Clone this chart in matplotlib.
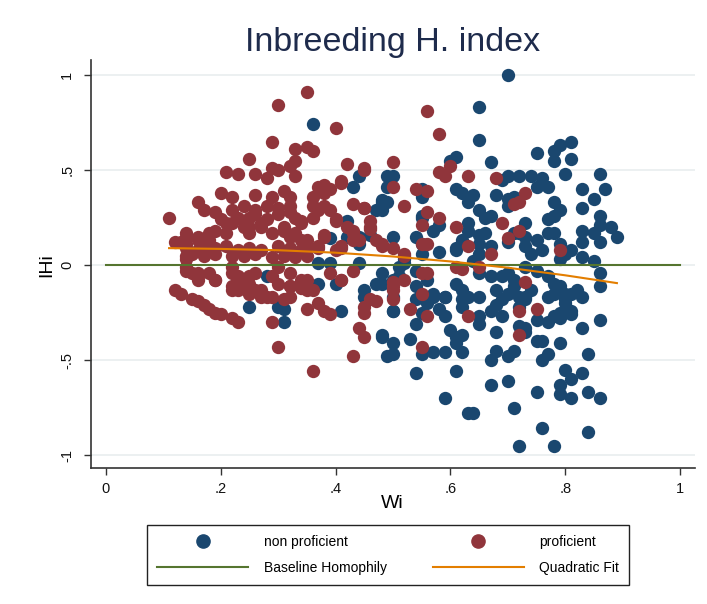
import matplotlib
matplotlib.use('Agg')
import matplotlib.pyplot as plt
from matplotlib.lines import Line2D
import numpy as np

plt.rcParams['font.family'] = ['Liberation Sans', 'DejaVu Sans']

# (Wi, IHi)
nonprof_pts = [
    (0.70,1.00),(0.65,0.83),(0.65,0.66),(0.67,0.54),(0.60,0.55),(0.61,0.57),(0.75,0.59),(0.78,0.60),(0.79,0.63),(0.78,0.55),
    (0.81,0.65),(0.81,0.56),(0.80,0.48),(0.86,0.48),(0.83,0.40),(0.85,0.35),(0.87,0.40),(0.83,0.30),(0.86,0.26),(0.88,0.20),
    (0.89,0.15),(0.86,0.21),(0.85,0.17),(0.86,0.12),(0.83,0.18),(0.83,0.12),(0.81,0.08),(0.83,0.04),(0.85,0.02),(0.86,-0.04),
    (0.86,-0.11),(0.70,0.47),(0.72,0.47),(0.69,0.45),(0.74,0.47),(0.76,0.46),(0.75,0.41),(0.77,0.41),(0.61,0.40),(0.62,0.38),
    (0.64,0.37),(0.63,0.33),(0.65,0.29),(0.67,0.26),(0.66,0.25),(0.68,0.37),(0.70,0.35),(0.71,0.36),(0.70,0.31),(0.78,0.33),
    (0.79,0.29),(0.78,0.26),(0.77,0.24),(0.73,0.22),(0.72,0.17),(0.55,0.40),(0.55,0.36),(0.50,0.47),(0.48,0.34),(0.55,0.26),
    (0.57,0.18),(0.58,0.21),(0.63,0.22),(0.63,0.18),(0.65,0.16),(0.66,0.17),(0.50,0.15),(0.54,0.15),(0.55,0.11),(0.55,0.06),
    (0.58,0.07),(0.61,0.08),(0.62,0.13),(0.65,0.11),(0.65,0.06),(0.67,0.10),(0.70,0.12),(0.71,0.17),(0.73,0.15),(0.73,0.10),
    (0.75,0.13),(0.76,0.08),(0.74,0.06),(0.77,0.17),(0.78,0.17),(0.79,0.11),(0.80,0.06),(0.79,0.03),(0.64,0.02),(0.65,-0.04),
    (0.67,-0.06),(0.69,-0.06),(0.70,-0.04),(0.71,-0.08),(0.73,-0.01),(0.75,-0.03),(0.77,-0.06),(0.78,-0.10),(0.79,-0.11),(0.81,-0.15),
    (0.82,-0.13),(0.80,-0.18),(0.56,-0.08),(0.54,-0.11),(0.57,-0.15),(0.59,-0.17),(0.61,-0.10),(0.62,-0.13),(0.63,-0.17),(0.65,-0.17),
    (0.62,-0.18),(0.68,-0.13),(0.70,-0.15),(0.69,-0.18),(0.72,-0.17),(0.73,-0.18),(0.72,-0.22),(0.52,0.03),(0.51,-0.01),(0.54,-0.03),
    (0.48,-0.04),(0.50,-0.08),(0.51,-0.06),(0.49,0.33),(0.48,0.29),
    (0.72,-0.95),(0.78,-0.95),(0.76,-0.86),(0.84,-0.88),(0.63,-0.78),(0.64,-0.78),(0.71,-0.75),(0.59,-0.70),(0.75,-0.67),(0.79,-0.68),
    (0.81,-0.70),(0.84,-0.67),(0.86,-0.70),(0.79,-0.63),(0.81,-0.60),(0.80,-0.55),(0.83,-0.57),(0.67,-0.63),(0.70,-0.61),(0.61,-0.56),
    (0.54,-0.57),(0.84,-0.47),(0.83,-0.33),(0.86,-0.29),(0.76,-0.50),(0.77,-0.47),(0.79,-0.41),(0.76,-0.40),(0.75,-0.40),(0.70,-0.48),
    (0.71,-0.45),(0.68,-0.45),(0.67,-0.50),(0.73,-0.35),(0.72,-0.32),(0.73,-0.33),(0.75,-0.29),(0.77,-0.30),(0.78,-0.27),(0.79,-0.25),
    (0.81,-0.24),(0.80,-0.20),(0.62,-0.46),(0.59,-0.46),(0.57,-0.46),(0.55,-0.47),(0.60,-0.34),(0.61,-0.38),(0.61,-0.41),(0.62,-0.37),
    (0.53,-0.39),(0.50,-0.41),(0.48,-0.37),(0.50,-0.47),(0.54,-0.31),(0.55,-0.25),(0.59,-0.27),(0.58,-0.23),(0.56,-0.20),(0.62,-0.22),
    (0.65,-0.31),(0.65,-0.27),(0.67,-0.24),(0.69,-0.27),(0.68,-0.35),(0.68,-0.21),(0.50,-0.24),(0.54,-0.18),(0.57,-0.17),(0.59,-0.17),
    (0.48,-0.10),(0.50,-0.17),(0.71,-0.11),(0.73,-0.17),(0.74,-0.13),(0.77,-0.17),(0.78,-0.15),(0.80,-0.15),(0.83,-0.17),(0.81,-0.26),
    (0.79,-0.28),(0.25,-0.22),(0.30,-0.22),(0.31,-0.23),(0.31,-0.30),(0.41,-0.24),(0.45,-0.13),(0.47,-0.10),(0.48,-0.38),(0.49,-0.48),
    (0.28,-0.06),(0.37,0.01),(0.37,-0.10),(0.44,0.47),(0.43,0.41),(0.48,0.33),(0.47,0.29),(0.42,0.23),(0.46,0.16),(0.55,0.25),
    (0.61,0.09),(0.39,0.14),(0.42,0.15),(0.44,0.11),(0.45,-0.17),(0.50,-0.24),(0.39,0.01),(0.40,-0.10),(0.44,0.01),(0.52,0.01),
    (0.36,0.74),(0.49,0.47),(0.49,0.41),(0.44,0.15),
]

prof_pts = [
    (0.35,0.91),(0.30,0.84),(0.40,0.72),(0.29,0.65),(0.33,0.61),(0.35,0.62),(0.36,0.60),(0.25,0.56),(0.33,0.55),
    (0.21,0.49),(0.23,0.48),(0.26,0.48),(0.28,0.46),(0.29,0.51),(0.30,0.50),(0.32,0.52),(0.33,0.47),(0.42,0.53),(0.45,0.51),
    (0.41,0.44),(0.37,0.41),(0.38,0.42),(0.39,0.40),(0.20,0.38),(0.22,0.36),(0.26,0.37),(0.29,0.36),(0.31,0.39),(0.32,0.36),
    (0.36,0.36),(0.36,0.31),(0.16,0.33),(0.17,0.29),(0.19,0.28),(0.22,0.29),(0.24,0.31),(0.26,0.27),(0.28,0.31),(0.30,0.30),
    (0.32,0.28),(0.11,0.25),(0.14,0.17),(0.13,0.12),(0.12,0.12),(0.16,0.13),(0.18,0.17),(0.19,0.18),(0.21,0.22),(0.23,0.25),
    (0.24,0.20),(0.25,0.17),(0.27,0.22),(0.29,0.17),(0.31,0.18),(0.33,0.17),(0.34,0.23),(0.36,0.25),(0.37,0.29),(0.38,0.38),
    (0.39,0.29),(0.40,0.23),(0.42,0.20),(0.43,0.17),(0.44,0.13),(0.46,0.23),(0.46,0.20),(0.45,0.30),(0.48,0.10),(0.47,0.13),
    (0.38,0.15),(0.40,0.08),(0.41,0.10),
    (0.14,0.09),(0.16,0.08),(0.19,0.09),(0.21,0.10),(0.23,0.08),(0.25,0.09),(0.27,0.08),(0.30,0.10),(0.32,0.09),(0.34,0.08),(0.37,0.09),
    (0.12,-0.13),(0.13,-0.15),(0.15,-0.18),(0.16,-0.19),(0.17,-0.21),(0.18,-0.23),(0.19,-0.25),(0.20,-0.26),(0.22,-0.28),(0.23,-0.30),
    (0.29,-0.30),(0.30,-0.43),(0.36,-0.56),(0.43,-0.48),(0.35,-0.23),(0.37,-0.20),(0.38,-0.24),(0.39,-0.26),(0.44,-0.33),(0.45,-0.38),
    (0.45,-0.22),(0.46,-0.18),(0.47,-0.19),(0.29,-0.17),(0.31,-0.18),(0.26,-0.13),(0.27,-0.17),(0.22,-0.11),(0.23,-0.13),(0.24,-0.11),
    (0.32,-0.11),(0.34,-0.12),(0.36,-0.13),(0.41,-0.08),(0.14,-0.03),(0.15,-0.04),(0.16,-0.08),(0.18,-0.04),(0.19,-0.08),
    (0.14,-0.01),(0.16,-0.04),(0.19,-0.08),(0.22,-0.01),(0.23,-0.06),(0.25,-0.10),(0.26,-0.04),(0.29,-0.06),(0.30,-0.01),(0.32,-0.04),
    (0.34,-0.08),(0.35,-0.13),(0.39,-0.04),(0.41,-0.08),(0.43,-0.03),
    (0.56,0.81),(0.58,0.69),(0.50,0.54),(0.50,0.41),(0.58,0.49),(0.59,0.47),(0.60,0.52),(0.63,0.47),(0.68,0.46),(0.54,0.40),
    (0.56,0.39),(0.52,0.31),(0.56,0.28),(0.58,0.25),(0.55,0.21),(0.61,0.20),(0.73,0.38),(0.71,0.32),(0.72,0.33),(0.69,0.22),
    (0.72,0.18),(0.70,0.14),(0.63,0.10),(0.67,0.06),(0.79,0.08),(0.48,0.11),(0.50,0.09),(0.52,0.06),(0.55,0.11),(0.56,0.11),
    (0.55,-0.04),(0.56,-0.04),(0.61,-0.01),(0.62,-0.02),(0.65,-0.01),(0.50,-0.09),(0.52,-0.08),(0.50,-0.13),(0.50,-0.18),(0.55,-0.15),
    (0.73,-0.09),(0.72,-0.37),(0.72,-0.24),(0.75,-0.23),(0.55,-0.43),(0.56,-0.27),(0.63,-0.27),(0.53,-0.23),
    (0.45,0.50),(0.41,0.43),(0.43,0.32),(0.45,0.30),(0.46,0.19),(0.38,0.16),(0.43,0.18),(0.43,0.13),(0.52,0.05),(0.35,0.10),
    (0.37,0.10),(0.41,0.09),(0.38,0.31),(0.40,0.24),(0.45,-0.25),(0.50,-0.11),
    (0.14,0.15),(0.14,0.11),(0.16,0.15),(0.18,0.13),(0.17,0.08),(0.21,0.17),(0.20,0.24),(0.22,0.22),(0.25,0.25),(0.26,0.29),
    (0.25,0.20),(0.27,0.20),(0.28,0.24),(0.31,0.20),(0.30,0.27),(0.32,0.31),(0.33,0.25),(0.34,0.22),(0.32,0.15),(0.34,0.13),(0.35,0.13),
    (0.14,0.05),(0.15,0.06),(0.17,0.05),(0.19,0.06),(0.22,0.05),(0.24,0.05),(0.26,0.06),(0.29,0.04),(0.31,0.05),(0.33,0.04),(0.35,0.05),
    (0.16,-0.06),(0.22,-0.04),(0.22,-0.13),(0.23,-0.10),(0.25,-0.06),(0.25,-0.15),(0.27,-0.13),(0.28,-0.17),(0.30,-0.10),(0.32,-0.17),
    (0.32,-0.11),(0.34,-0.11),(0.35,-0.08),(0.14,0.03),
]

fit_wi = [0.11, 0.20, 0.30, 0.40, 0.50, 0.60, 0.70, 0.80, 0.89]
fit_ihi = [0.089, 0.085, 0.078, 0.065, 0.045, 0.019, -0.014, -0.054, -0.095]
base_wi = [0, 1]
base_ihi = [0, 0]

xticks = [0, 0.2, 0.4, 0.6, 0.8, 1]
xticklabels = ['0', '.2', '.4', '.6', '.8', '1']
yticks = [-1, -0.5, 0, 0.5, 1]
yticklabels = ['-1', '-.5', '0', '.5', '1']

wi_np, ihi_np = np.array(nonprof_pts).T
wi_p, ihi_p = np.array(prof_pts).T

NAVY = '#1a476f'
MAROON = '#90353b'
GREEN = '#55752f'
ORANGE = '#e37e00'

fig = plt.figure(figsize=(7.07, 6.04), dpi=100)
ax = fig.add_axes([91/707, 1-468/604, 604/707, 408/604])

ax.scatter(wi_np, ihi_np, s=92, color=NAVY, linewidths=0, zorder=3)
ax.scatter(wi_p, ihi_p, s=92, color=MAROON, linewidths=0, zorder=4)
ax.plot(base_wi, base_ihi, color=GREEN, lw=1.5, zorder=5)
ax.plot(fit_wi, fit_ihi, color=ORANGE, lw=1.5, zorder=6)

ax.set_xlim(-0.026, 1.026)
ax.set_ylim(-1.068, 1.079)
ax.set_xticks(xticks)
ax.set_xticklabels(xticklabels)
ax.set_yticks(yticks)
ax.set_yticklabels(yticklabels, rotation=90, va='center')
ax.tick_params(axis='both', length=5, width=1, color='#333333', labelsize=10.5, labelcolor='#111111')
ax.tick_params(axis='y', pad=7)
ax.tick_params(axis='x', pad=5)
ax.grid(axis='y', color='#e9eeef', lw=1.2, zorder=0)
ax.set_axisbelow(True)
for s in ['top', 'right']:
    ax.spines[s].set_visible(False)
for s in ['left', 'bottom']:
    ax.spines[s].set_color('#333333')
    ax.spines[s].set_linewidth(1.2)

fig.text(393/707, 1-43/604, 'Inbreeding H. index', ha='center', va='center',
         fontsize=24.5, color='#1e2b4c')
fig.text(392/707, 1-503/604, 'Wi', ha='center', va='center', fontsize=14)
fig.text(47/707, 1-265/604, 'IHi', ha='center', va='center', rotation=90, fontsize=14)

handles = [
    Line2D([], [], marker='o', ls='', color=NAVY, markersize=9.5),
    Line2D([], [], color=GREEN, lw=1.5),
    Line2D([], [], marker='o', ls='', color=MAROON, markersize=9.5),
    Line2D([], [], color=ORANGE, lw=1.5),
]
labels = ['non proficient', 'Baseline Homophily', 'proficient', 'Quadratic Fit']
leg = fig.legend(handles, labels, ncol=2, loc='upper left',
                 bbox_to_anchor=(147/707, 1-525/604),
                 fontsize=10, handlelength=6.6, handletextpad=1.1,
                 columnspacing=3.3, labelspacing=0.9, borderpad=0.7,
                 borderaxespad=0, fancybox=False, framealpha=1,
                 edgecolor='#222222')
leg.get_frame().set_linewidth(1.0)

fig.savefig('out.png', dpi=100)
